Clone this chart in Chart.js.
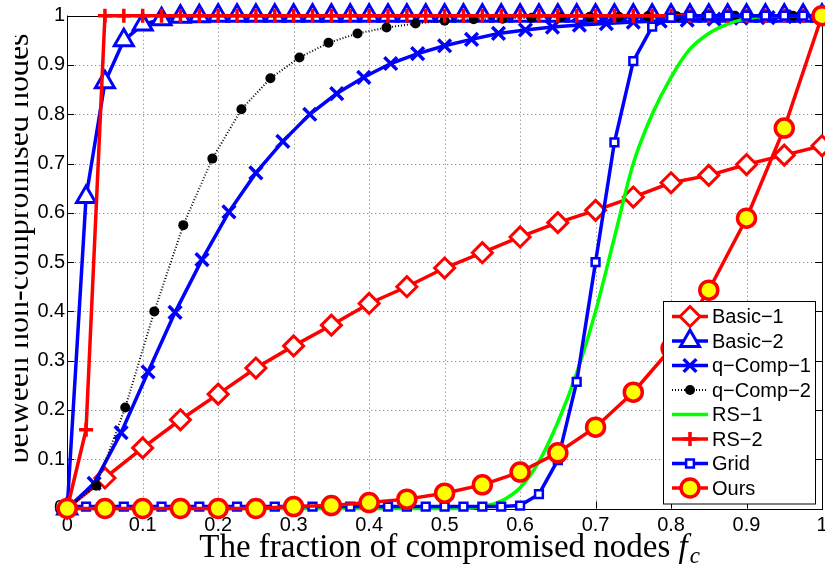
<!DOCTYPE html>
<html>
<head>
<meta charset="utf-8">
<script src="https://cdn.jsdelivr.net/npm/chart.js@4/dist/chart.umd.min.js"></script>
<style>
  html, body { margin: 0; padding: 0; background: #fff; }
  #wrap { width: 825px; height: 566px; }
</style>
</head>
<body>
<div id="wrap"><canvas id="c" width="825" height="566"></canvas></div>
<script>
// Fraction of compromised nodes (x positions of each series)
const fcCoarse = [0, 0.05, 0.1, 0.15, 0.2, 0.25, 0.3, 0.35, 0.4, 0.45, 0.5,
  0.55, 0.6, 0.65, 0.7, 0.75, 0.8, 0.85, 0.9, 0.95, 1];
const fcFine = [0, 0.025, 0.05, 0.075, 0.1, 0.125, 0.15, 0.175, 0.2, 0.225, 0.25,
  0.275, 0.3, 0.325, 0.35, 0.375, 0.4, 0.425, 0.45, 0.475, 0.5,
  0.525, 0.55, 0.575, 0.6, 0.625, 0.65, 0.675, 0.7, 0.725, 0.75,
  0.775, 0.8, 0.825, 0.85, 0.875, 0.9, 0.925, 0.95, 0.975, 1];
const fcQComp1 = [0, 0.0357, 0.0714, 0.1071, 0.1429, 0.1786, 0.2143, 0.25, 0.2857,
  0.3214, 0.3571, 0.3929, 0.4286, 0.4643, 0.5, 0.5357, 0.5714, 0.6071, 0.6429,
  0.6786, 0.7143, 0.75, 0.7857, 0.8214, 0.8571, 0.8929, 0.9286, 0.9643, 1];
const fcQComp2 = [0, 0.0385, 0.0769, 0.1154, 0.1538, 0.1923, 0.2308, 0.2692, 0.3077,
  0.3462, 0.3846, 0.4231, 0.4615, 0.5, 0.5385, 0.5769, 0.6154, 0.6538, 0.6923,
  0.7308, 0.7692, 0.8077, 0.8462, 0.8846, 0.9231, 0.9615, 1];

// Series values
const basic1 = [0, 0.062, 0.123, 0.180, 0.232, 0.285, 0.330, 0.372, 0.416, 0.450, 0.488,
  0.519, 0.551, 0.580, 0.605, 0.632, 0.661, 0.676, 0.698, 0.717, 0.736];
const basic2 = [0, 0.632, 0.865, 0.950, 0.982, 0.993, 0.998, 0.999, 1, 1, 1,
  1, 1, 1, 1, 1, 1, 1, 1, 1, 1,
  1, 1, 1, 1, 1, 1, 1, 1, 1, 1,
  1, 1, 1, 1, 1, 1, 1, 1, 1, 1];
const qComp1 = [0, 0.051, 0.154, 0.277, 0.398, 0.505, 0.602, 0.681, 0.745, 0.800,
  0.842, 0.875, 0.903, 0.923, 0.939, 0.952, 0.964, 0.971, 0.977, 0.981,
  0.984, 0.987, 0.989, 0.991, 0.993, 0.995, 0.996, 0.998, 0.999];
const qComp2 = [0, 0.046, 0.205, 0.400, 0.575, 0.710, 0.810, 0.873, 0.915, 0.945,
  0.964, 0.976, 0.984, 0.990, 0.993, 0.994, 0.996, 0.997, 0.998, 0.998,
  0.999, 0.999, 1, 1, 1, 1, 1];
const rs1 = [0, 0, 0, 0, 0, 0, 0, 0, 0, 0, 0,
  0, 0, 0, 0, 0, 0, 0, 0, 0, 0,
  0, 0.004, 0.015, 0.042, 0.095, 0.175, 0.275, 0.400, 0.550, 0.700,
  0.800, 0.875, 0.932, 0.964, 0.983, 0.994, 0.999, 1, 1, 1];
const rs2 = [0, 0.16, 1, 1, 1, 1, 1, 1, 1, 1, 1,
  1, 1, 1, 1, 1, 1, 1, 1, 1, 1,
  1, 1, 1, 1, 1, 1, 1, 1, 1, 1,
  1, 1, 1, 1, 1, 1, 1, 1, 1, 1];
const grid = [0.004, 0.004, 0.004, 0.004, 0.004, 0.004, 0.004, 0.004, 0.004, 0.004, 0.004,
  0.004, 0.004, 0.004, 0.004, 0.004, 0.004, 0.004, 0.004, 0.004, 0.004,
  0.004, 0.004, 0.004, 0.006, 0.029, 0.098, 0.257, 0.500, 0.743, 0.908,
  0.978, 0.996, 1, 1, 1, 1, 1, 1, 1, 1];
const ours = [0, 0, 0, 0, 0, 0, 0.004, 0.006, 0.012, 0.019, 0.031,
  0.048, 0.074, 0.113, 0.165, 0.236, 0.325, 0.443, 0.589, 0.772, 1.0];

// Axis tick labels
const xTickLabels = ['0', '0.1', '0.2', '0.3', '0.4', '0.5', '0.6', '0.7', '0.8', '0.9', '1'];
const yTickLabels = ['0', '0.1', '0.2', '0.3', '0.4', '0.5', '0.6', '0.7', '0.8', '0.9', '1'];

// Text
const seriesNames = ['Basic\u22121', 'Basic\u22122', 'q\u2212Comp\u22121', 'q\u2212Comp\u22122',
  'RS\u22121', 'RS\u22122', 'Grid', 'Ours'];
const xTitle = 'The fraction of compromised nodes ';
const yTitle = 'between non-compromised nodes';

const RED = '#ff0000', BLUE = '#0000ff', GREEN = '#00ff00', YELLOW = '#ffff00';

function pts(xs, ys) { return xs.map((x, i) => ({ x: x, y: ys[i] })); }

const datasets = [
  { label: seriesNames[0], data: pts(fcCoarse, basic1), borderColor: RED, borderWidth: 3.5,
    pointStyle: 'rectRot', pointRadius: 10, pointBorderWidth: 3, pointBorderColor: RED,
    pointBackgroundColor: '#fff', order: 8 },
  { label: seriesNames[1], data: pts(fcFine, basic2), borderColor: BLUE, borderWidth: 3.5,
    pointStyle: 'triangle', pointRadius: 11, pointBorderWidth: 3, pointBorderColor: BLUE,
    pointBackgroundColor: '#fff', order: 7 },
  { label: seriesNames[2], data: pts(fcQComp1, qComp1), borderColor: BLUE, borderWidth: 3.5,
    pointStyle: 'crossRot', pointRadius: 9, pointBorderWidth: 3.5, pointBorderColor: BLUE,
    pointBackgroundColor: BLUE, order: 6 },
  { label: seriesNames[3], data: pts(fcQComp2, qComp2), borderColor: '#000', borderWidth: 2,
    borderDash: [1, 2], pointStyle: 'circle', pointRadius: 5, pointBorderWidth: 0,
    pointBorderColor: '#000', pointBackgroundColor: '#000', order: 5 },
  { label: seriesNames[4], data: pts(fcFine, rs1), borderColor: GREEN, borderWidth: 3.5,
    pointRadius: 0, cubicInterpolationMode: 'monotone', order: 4 },
  { label: seriesNames[5], data: pts(fcFine, rs2), borderColor: RED, borderWidth: 3.5,
    pointStyle: 'cross', pointRadius: 7, pointBorderWidth: 3.5, pointBorderColor: RED,
    pointBackgroundColor: RED, order: 3 },
  { label: seriesNames[6], data: pts(fcFine, grid), borderColor: BLUE, borderWidth: 3.5,
    pointStyle: 'rect', pointRadius: 5.5, pointBorderWidth: 2.5, pointBorderColor: BLUE,
    pointBackgroundColor: '#fff', order: 2 },
  { label: seriesNames[7], data: pts(fcCoarse, ours), borderColor: RED, borderWidth: 3.5,
    pointStyle: 'circle', pointRadius: 9, pointBorderWidth: 3.5, pointBorderColor: RED,
    pointBackgroundColor: YELLOW, order: 1 }
];
datasets.forEach(d => { d.fill = false; d.tension = 0; d.clip = false; d.pointHoverRadius = d.pointRadius; });

// Draws one legend marker in the same shape the dataset uses
function drawMarker(ctx, ds, x, y) {
  const r = ds.pointRadius || 0;
  if (!r) return;
  ctx.save();
  ctx.setLineDash([]);
  ctx.lineWidth = ds.pointBorderWidth;
  ctx.strokeStyle = ds.pointBorderColor;
  ctx.fillStyle = ds.pointBackgroundColor;
  ctx.beginPath();
  const s = ds.pointStyle;
  if (s === 'circle') {
    ctx.arc(x, y, r, 0, Math.PI * 2);
  } else if (s === 'rectRot') {
    ctx.moveTo(x - r, y); ctx.lineTo(x, y - r); ctx.lineTo(x + r, y); ctx.lineTo(x, y + r); ctx.closePath();
  } else if (s === 'rect') {
    const h = r * Math.SQRT1_2; ctx.rect(x - h, y - h, 2 * h, 2 * h);
  } else if (s === 'triangle') {
    let a = 0;
    ctx.moveTo(x + Math.sin(a) * r, y - Math.cos(a) * r);
    a += 2 * Math.PI / 3; ctx.lineTo(x + Math.sin(a) * r, y - Math.cos(a) * r);
    a += 2 * Math.PI / 3; ctx.lineTo(x + Math.sin(a) * r, y - Math.cos(a) * r);
    ctx.closePath();
  } else if (s === 'cross') {
    ctx.moveTo(x - r, y); ctx.lineTo(x + r, y); ctx.moveTo(x, y - r); ctx.lineTo(x, y + r);
  } else if (s === 'crossRot') {
    const h = r * Math.SQRT1_2;
    ctx.moveTo(x - h, y - h); ctx.lineTo(x + h, y + h); ctx.moveTo(x + h, y - h); ctx.lineTo(x - h, y + h);
  }
  if (s !== 'cross' && s !== 'crossRot') ctx.fill();
  if (ds.pointBorderWidth > 0) ctx.stroke();
  ctx.restore();
}

const framePlugin = {
  id: 'frame',
  beforeDatasetsDraw(chart) {
    const { ctx, chartArea: a, scales } = chart;
    const xs = scales.x, ys = scales.y;
    ctx.save();
    // dotted grid
    ctx.strokeStyle = 'rgba(0,0,0,0.55)';
    ctx.lineWidth = 1;
    ctx.setLineDash([1, 3]);
    ctx.beginPath();
    xs.ticks.forEach(t => {
      const px = Math.round(xs.getPixelForValue(t.value)) + 0.5;
      ctx.moveTo(px, a.top); ctx.lineTo(px, a.bottom);
    });
    ys.ticks.forEach(t => {
      const py = Math.round(ys.getPixelForValue(t.value)) + 0.5;
      ctx.moveTo(a.left, py); ctx.lineTo(a.right, py);
    });
    ctx.stroke();
    // axes box
    ctx.setLineDash([]);
    ctx.strokeStyle = '#000';
    ctx.lineWidth = 1;
    ctx.strokeRect(Math.round(a.left) + 0.5, Math.round(a.top) + 0.5,
      Math.round(a.right) - Math.round(a.left), Math.round(a.bottom) - Math.round(a.top));
    // inward ticks on all four sides
    const tl = 7;
    ctx.beginPath();
    xs.ticks.forEach(t => {
      const px = Math.round(xs.getPixelForValue(t.value)) + 0.5;
      ctx.moveTo(px, a.bottom); ctx.lineTo(px, a.bottom - tl);
      ctx.moveTo(px, a.top); ctx.lineTo(px, a.top + tl);
    });
    ys.ticks.forEach(t => {
      const py = Math.round(ys.getPixelForValue(t.value)) + 0.5;
      ctx.moveTo(a.left, py); ctx.lineTo(a.left + tl, py);
      ctx.moveTo(a.right, py); ctx.lineTo(a.right - tl, py);
    });
    ctx.stroke();
    ctx.restore();
  },
  afterDraw(chart) {
    const { ctx, chartArea: a } = chart;
    ctx.save();
    // x-axis title with italic f and subscript c
    const big = '33px "Liberation Serif", "Times New Roman", serif';
    const bigIt = 'italic 33px "Liberation Serif", "Times New Roman", serif';
    const small = 'italic 23px "Liberation Serif", "Times New Roman", serif';
    ctx.fillStyle = '#000';
    ctx.textBaseline = 'alphabetic';
    ctx.textAlign = 'left';
    ctx.font = big; const w1 = ctx.measureText(xTitle).width;
    ctx.font = bigIt; const w2 = ctx.measureText('f').width;
    ctx.font = small; const w3 = ctx.measureText('c').width;
    const cx = (a.left + a.right) / 2 + 5;
    let x0 = cx - (w1 + w2 + w3 + 2) / 2;
    const base = 557;
    ctx.font = big; ctx.fillText(xTitle, x0, base);
    ctx.font = bigIt; ctx.fillText('f', x0 + w1, base);
    ctx.font = small; ctx.fillText('c', x0 + w1 + w2 + 2, base + 6);

    // y-axis title, rotated; the figure edge trims the tops of the glyphs
    ctx.save();
    ctx.beginPath();
    ctx.rect(15, 0, 50, 566);
    ctx.clip();
    ctx.translate(28, 248.5);
    ctx.rotate(-Math.PI / 2);
    ctx.font = '32px "Liberation Serif", "Times New Roman", serif';
    ctx.textAlign = 'center';
    ctx.fillText(yTitle, 0, 0);
    ctx.restore();

    // legend
    const L = { x: 663.5, y: 301.5, w: 152, h: 202.5 };
    ctx.fillStyle = '#fff';
    ctx.fillRect(L.x, L.y, L.w, L.h);
    ctx.strokeStyle = '#000';
    ctx.lineWidth = 1;
    ctx.strokeRect(L.x, L.y, L.w, L.h);
    chart.data.datasets.forEach((ds, i) => {
      const y = 316.5 + 24.5 * i;
      ctx.save();
      ctx.strokeStyle = ds.borderColor;
      ctx.lineWidth = ds.borderWidth;
      ctx.setLineDash(ds.borderDash || []);
      ctx.beginPath(); ctx.moveTo(672, y); ctx.lineTo(708, y); ctx.stroke();
      ctx.restore();
      drawMarker(ctx, ds, 690, y);
      ctx.fillStyle = '#000';
      ctx.font = '20px "Liberation Sans", Arial, sans-serif';
      ctx.textAlign = 'left';
      ctx.textBaseline = 'middle';
      ctx.fillText(ds.label, 712, y + 1);
    });
    ctx.restore();
  }
};

new Chart(document.getElementById('c'), {
  type: 'line',
  data: { datasets: datasets },
  options: {
    responsive: false,
    animation: false,
    events: [],
    layout: { autoPadding: false, padding: { left: 0, right: 3, top: 15.7, bottom: 0 } },
    plugins: { legend: { display: false }, tooltip: { enabled: false } },
    scales: {
      x: {
        type: 'linear', min: 0, max: 1,
        grid: { display: false, drawTicks: false },
        border: { display: false },
        ticks: {
          stepSize: 0.1, padding: 5, color: '#000', maxRotation: 0, autoSkip: false,
          font: { family: '"Liberation Sans", Arial, sans-serif', size: 20 },
          callback: (v, i) => xTickLabels[i]
        },
        afterFit: s => { s.height = 57.5; s.paddingLeft = 0; s.paddingRight = 0; }
      },
      y: {
        type: 'linear', min: 0, max: 1,
        grid: { display: false, drawTicks: false },
        border: { display: false },
        ticks: {
          stepSize: 0.1, padding: 2, color: '#000', autoSkip: false,
          font: { family: '"Liberation Sans", Arial, sans-serif', size: 20 },
          callback: (v, i) => yTickLabels[i]
        },
        afterFit: s => { s.width = 67.2; s.paddingTop = 0; s.paddingBottom = 0; }
      }
    }
  },
  plugins: [framePlugin]
});
</script>
</body>
</html>
